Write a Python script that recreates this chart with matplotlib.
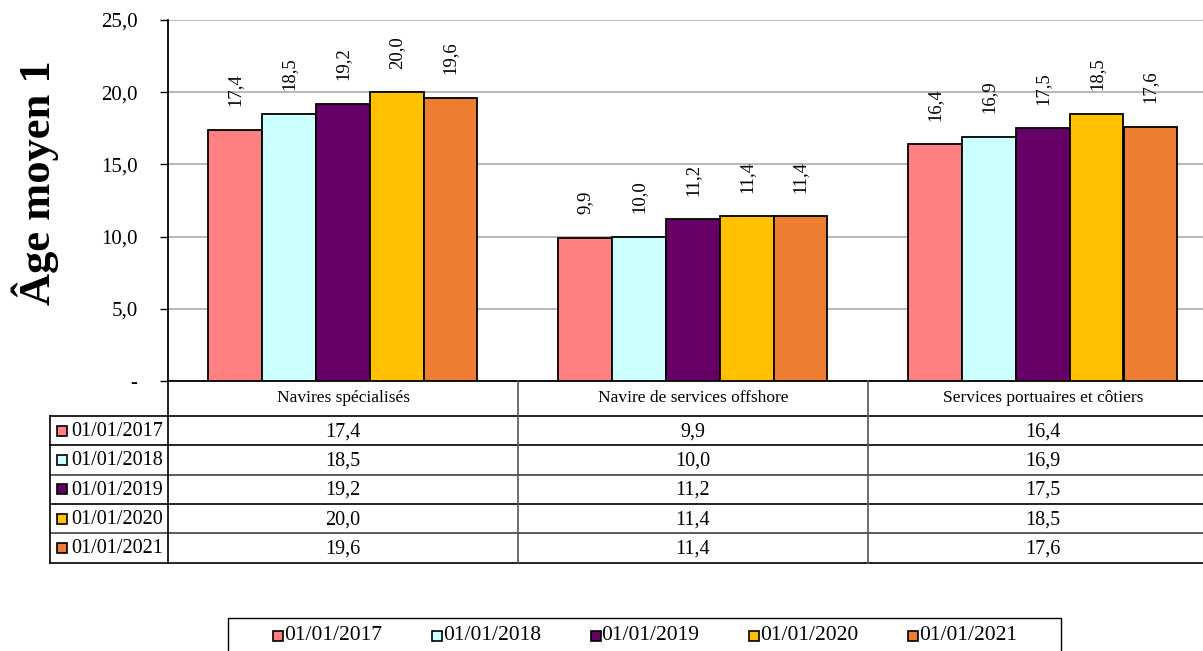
import numpy as np
import matplotlib
matplotlib.use('Agg')
import matplotlib.pyplot as plt
from matplotlib.patches import Rectangle
from matplotlib.lines import Line2D

plt.rcParams['font.family'] = ['Liberation Serif', 'DejaVu Serif']

# data
categories = ['Navires spécialisés', 'Navire de services offshore', 'Services portuaires et côtiers']
series = ['01/01/2017', '01/01/2018', '01/01/2019', '01/01/2020', '01/01/2021']
v2017 = [17.4, 9.9, 16.4]
v2018 = [18.5, 10.0, 16.9]
v2019 = [19.2, 11.2, 17.5]
v2020 = [20.0, 11.4, 18.5]
v2021 = [19.6, 11.4, 17.6]
values = [v2017, v2018, v2019, v2020, v2021]
colors = ['#FF8080', '#CCFFFF', '#660066', '#FFC000', '#ED7D31']
yticks = [0, 5, 10, 15, 20, 25]
ytick_labels = ['-', '5,0', '10,0', '15,0', '20,0', '25,0']

W, H = 1203, 651
fig = plt.figure(figsize=(W / 100, H / 100), dpi=100)

def fx(px):
    return px / W

def fy(py):
    return 1 - py / H

# axes in pixel layout (right edge runs past the picture)
ax_l, ax_r, ax_t, ax_b = 168, 1218, 20, 381
ax = fig.add_axes([fx(ax_l), fy(ax_b), fx(ax_r - ax_l), (ax_b - ax_t) / H])

ncat = len(categories)
bw = 0.154
gap = 0.114
x = np.arange(ncat)
for i, (vals, c) in enumerate(zip(values, colors)):
    xs = x + gap + bw * (i + 0.5)
    ax.bar(xs, vals, width=bw, color=c, edgecolor='black', linewidth=1.3, zorder=3)
    for xb, v in zip(xs, vals):
        ax.annotate(f'{v:.1f}'.replace('.', ','), (xb, v), xytext=(0, 17),
                    textcoords='offset points', rotation=90, ha='center', va='bottom',
                    fontsize=13.5)

ax.set_xlim(0, ncat)
ax.set_ylim(0, 25)
ax.set_yticks(yticks)
ax.set_yticklabels(ytick_labels, fontsize=15)
ax.set_xticks([])
ax.tick_params(axis='y', direction='out', length=6, width=1, pad=16)
ax.grid(axis='y', color='#A6A6A6', linewidth=1.1, zorder=0)
ax.spines['top'].set_visible(False)
ax.spines['right'].set_visible(False)
ax.spines['left'].set_linewidth(1.3)
ax.spines['bottom'].set_linewidth(1.3)

fig.text(fx(35), fy(183), 'Âge moyen 1', rotation=90, ha='center', va='center',
         fontsize=32, fontweight='bold')

# data table under the chart
row_top = 381
head_bot = 416
row_h = 29.3
lab_l = 50
cat_w = (ax_r - ax_l) / ncat

def hline(x0, x1, y, color='black', lw=1.2):
    fig.add_artist(Line2D([fx(x0), fx(x1)], [fy(y), fy(y)], color=color, lw=lw))

def vline(x0, y0, y1, color='black', lw=1.2):
    fig.add_artist(Line2D([fx(x0), fx(x0)], [fy(y0), fy(y1)], color=color, lw=lw))

hline(lab_l, W, head_bot)
for r in range(len(series)):
    hline(lab_l, W, head_bot + row_h * (r + 1), color='#404040' if r % 2 else 'black')
vline(lab_l, head_bot, head_bot + row_h * len(series))
vline(ax_l, row_top, head_bot + row_h * len(series))
for k in range(1, ncat):
    vline(ax_l + cat_w * k, row_top, head_bot + row_h * len(series), color='#555555')

for k, cat in enumerate(categories):
    cx = ax_l + cat_w * (k + 0.5)
    fig.text(fx(cx), fy((row_top + head_bot) / 2), cat, ha='center', va='center', fontsize=12.5)

for r, (name, vals, c) in enumerate(zip(series, values, colors)):
    cy = head_bot + row_h * (r + 0.5)
    fig.add_artist(Rectangle((fx(57), fy(cy + 5)), fx(10), 10 / H, facecolor=c,
                             edgecolor='black', lw=1.2, transform=fig.transFigure))
    fig.text(fx(71), fy(cy + 1), name, ha='left', va='center', fontsize=14.5)
    for k, v in enumerate(vals):
        cx = ax_l + cat_w * (k + 0.5)
        fig.text(fx(cx), fy(cy + 1), f'{v:.1f}'.replace('.', ','), ha='center', va='center',
                 fontsize=14.5)

# legend box at the bottom
fig.add_artist(Rectangle((fx(228), fy(665)), fx(1061 - 228), 47 / H, facecolor='none',
                         edgecolor='black', lw=1.0, transform=fig.transFigure))
ly = 636
for j, (name, c) in enumerate(zip(series, colors)):
    lx = 273 + 158.8 * j
    fig.add_artist(Rectangle((fx(lx), fy(ly + 5)), fx(10), 10 / H, facecolor=c,
                             edgecolor='black', lw=1.2, transform=fig.transFigure))
    fig.text(fx(lx + 11), fy(ly), name, ha='left', va='center', fontsize=15.5)

fig.savefig('out.png', dpi=100)
plt.close()
